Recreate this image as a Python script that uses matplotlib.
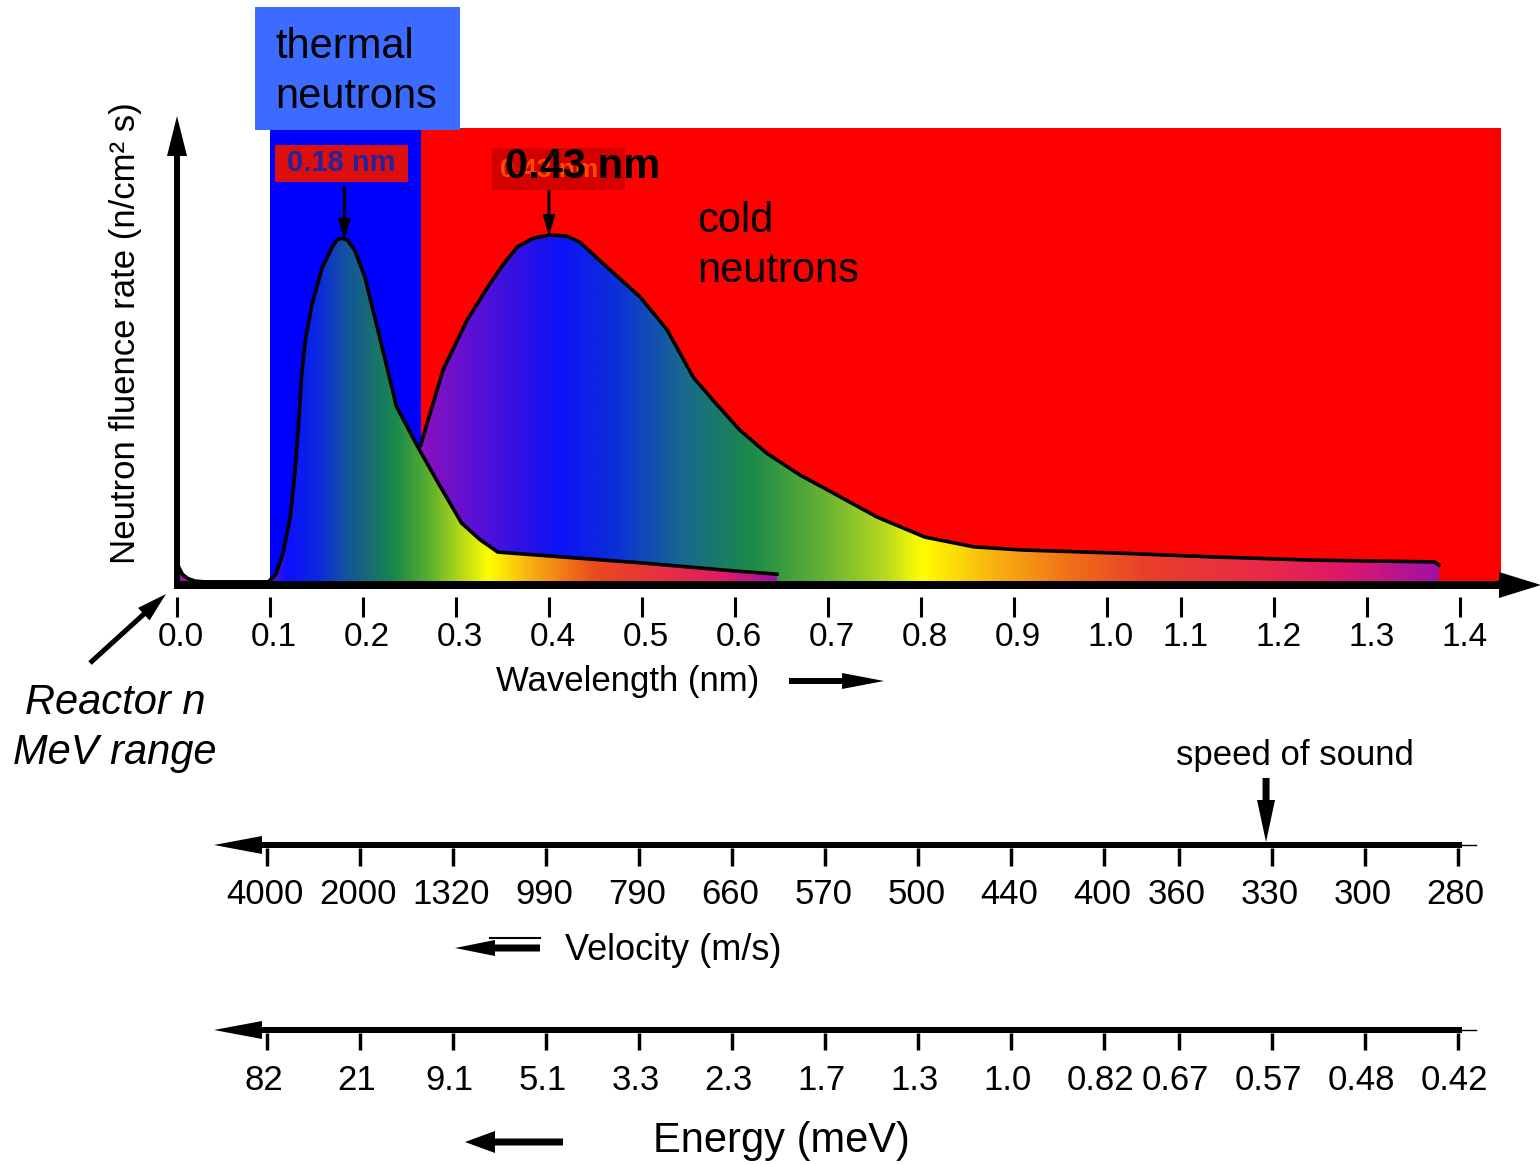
import numpy as np
import matplotlib
matplotlib.use('Agg')
import matplotlib.pyplot as plt
from matplotlib.patches import Rectangle, FancyArrowPatch
from matplotlib.colors import LinearSegmentedColormap

# spectra: wavelength (nm) vs relative fluence rate
thermal_nm = [0.098, 0.106, 0.114, 0.122, 0.127, 0.131, 0.134, 0.138, 0.145, 0.156,
              0.167, 0.172, 0.177, 0.183, 0.191, 0.202, 0.216, 0.236, 0.259, 0.281,
              0.306, 0.326, 0.345, 0.40, 0.50, 0.60, 0.645]
thermal_flux = [0.009, 0.029, 0.091, 0.200, 0.329, 0.471, 0.600, 0.700, 0.800, 0.906,
                0.966, 0.986, 0.991, 0.986, 0.957, 0.880, 0.729, 0.510, 0.394, 0.291,
                0.177, 0.129, 0.094, 0.083, 0.063, 0.040, 0.031]

cold_nm = [0.262, 0.286, 0.312, 0.337, 0.352, 0.366, 0.383, 0.401, 0.419, 0.433,
           0.462, 0.498, 0.527, 0.555, 0.576, 0.605, 0.634, 0.670, 0.700, 0.753,
           0.804, 0.857, 0.909, 1.013, 1.117, 1.222, 1.352, 1.357]
cold_flux = [0.400, 0.614, 0.757, 0.863, 0.920, 0.966, 0.991, 1.000, 0.997, 0.980,
             0.909, 0.823, 0.729, 0.594, 0.529, 0.443, 0.377, 0.314, 0.271, 0.194,
             0.137, 0.109, 0.100, 0.091, 0.080, 0.071, 0.066, 0.057]

reactor_nm = [0.0, 0.002, 0.006, 0.012, 0.020, 0.030, 0.098]
reactor_flux = [0.070, 0.050, 0.030, 0.018, 0.011, 0.009, 0.009]

wl_ticks = [0.0, 0.1, 0.2, 0.3, 0.4, 0.5, 0.6, 0.7, 0.8, 0.9, 1.0, 1.08, 1.18, 1.28, 1.38]
wl_labels = ['0.0', '0.1', '0.2', '0.3', '0.4', '0.5', '0.6', '0.7', '0.8', '0.9',
             '1.0', '1.1', '1.2', '1.3', '1.4']
velocity_labels = ['4000', '2000', '1320', '990', '790', '660', '570', '500', '440',
                   '400', '360', '330', '300', '280']
energy_labels = ['82', '21', '9.1', '5.1', '3.3', '2.3', '1.7', '1.3', '1.0', '0.82',
                 '0.67', '0.57', '0.48', '0.42']

thermal_band = (0.10, 0.262)
cold_band = (0.262, 1.424)
thermal_peak = 0.18
cold_peak = 0.40

# colour ramps under the curves (wavelength, colour)
thermal_ramp = [(0.098, '#5a12d0'), (0.118, '#0c10ff'), (0.150, '#0a28e0'), (0.180, '#1452a0'),
                (0.210, '#187070'), (0.235, '#1a8a48'), (0.270, '#5aae30'), (0.305, '#b4d818'),
                (0.335, '#ffff00'), (0.385, '#f6a812'), (0.450, '#ea4a1e'), (0.520, '#e83040'),
                (0.590, '#e01a6a'), (0.645, '#a010a8')]
cold_ramp = [(0.262, '#8a10c0'), (0.330, '#5010d8'), (0.410, '#0c12f8'), (0.470, '#0c30d8'),
             (0.540, '#186890'), (0.615, '#1a8a4a'), (0.700, '#6cb432'), (0.760, '#b8d820'),
             (0.800, '#ffff00'), (0.880, '#f8b010'), (0.960, '#f07018'), (1.040, '#e84028'),
             (1.170, '#e82a48'), (1.250, '#e01868'), (1.360, '#a010a8')]

plt.rcParams['font.family'] = ['Liberation Sans', 'DejaVu Sans']

W, H = 1540, 1165


# page pixel -> data coords
def X(p):
    return (p - 177) / 930.0


def Y(p):
    return (585 - p) / 350.0


fig = plt.figure(figsize=(W / 100, H / 100), dpi=100)
ax = fig.add_axes([0, 0, 1, 1])


def gradient_fill(xs, ys, ramp, z):
    xs = np.asarray(xs)
    ys = np.asarray(ys)
    poly = ax.fill_between(xs, 0, ys, color='none', lw=0)
    lo, hi = ramp[0][0], ramp[-1][0]
    cmap = LinearSegmentedColormap.from_list('r', [((p - lo) / (hi - lo), c) for p, c in ramp])
    im = ax.imshow(np.linspace(0, 1, 800)[None, :], cmap=cmap, aspect='auto',
                   extent=[lo, hi, 0, ys.max()], zorder=z, interpolation='bilinear')
    im.set_clip_path(poly.get_paths()[0], transform=ax.transData)


def arrow(p0, p1, tail, hw, hl, z=8):
    ax.add_patch(FancyArrowPatch((X(p0[0]), Y(p0[1])), (X(p1[0]), Y(p1[1])),
                                 arrowstyle=f'simple,head_length={hl},head_width={hw},tail_width={tail}',
                                 mutation_scale=0.72, color='k', lw=0, shrinkA=0, shrinkB=0, zorder=z))


top = Y(128)
ax.add_patch(Rectangle((cold_band[0], 0), cold_band[1] - cold_band[0], top, color='#ff0000', lw=0, zorder=1))
ax.add_patch(Rectangle((thermal_band[0], 0), thermal_band[1] - thermal_band[0], top, color='#0000ff', lw=0, zorder=1))

gradient_fill(cold_nm, cold_flux, cold_ramp, 2)
gradient_fill(thermal_nm, thermal_flux, thermal_ramp, 3)
ax.fill_between(reactor_nm[:4], 0, reactor_flux[:4], color='#a010a8', lw=0, zorder=3)

ax.plot(cold_nm, cold_flux, color='k', lw=2.6, zorder=4, solid_joinstyle='round')
ax.plot(thermal_nm, thermal_flux, color='k', lw=2.6, zorder=5, solid_joinstyle='round')
ax.plot(reactor_nm, reactor_flux, color='k', lw=2.6, zorder=5)

# axes with arrow heads
arrow((177, 589), (177, 116), 6, 20, 40)
arrow((174, 585), (1541, 585), 8, 26, 42)
ax.vlines(wl_ticks, Y(617), Y(597), color='k', lw=2.2, zorder=6)
for t, lab in zip(wl_ticks, wl_labels):
    ax.text(t + X(181), Y(638), lab, fontsize=24, ha='center', va='center')

ax.text(X(628), Y(681), 'Wavelength (nm)', fontsize=25, ha='center', va='center')
arrow((789, 681), (884, 681), 6, 16, 42)

ax.text(X(125), Y(333), 'Neutron fluence rate (n/cm² s)', fontsize=25, rotation=90,
        ha='center', va='center')

# region labels
ax.add_patch(Rectangle((X(255), Y(130)), X(460) - X(255), Y(7) - Y(130), color='#3b6bff', lw=0, zorder=6))
ax.text(X(275), Y(72), 'thermal\nneutrons', fontsize=30, ha='left', va='center', linespacing=1.33, zorder=7)
ax.text(X(697), Y(246), 'cold\nneutrons', fontsize=30, ha='left', va='center', linespacing=1.31, zorder=7)

ax.add_patch(Rectangle((X(275), Y(182)), X(408) - X(275), Y(145) - Y(182), color='#dc0e0e', lw=0, zorder=6))
ax.text(X(341), Y(163), '0.18 nm', fontsize=21, weight='bold', color='#24249a',
        ha='center', va='center', zorder=7)
arrow((thermal_peak * 930 + 177, 186), (thermal_peak * 930 + 177, 240), 3, 13, 22)

# faint label underneath the bold one, as in the original slide
ax.add_patch(Rectangle((X(492), Y(190)), X(625) - X(492), Y(148) - Y(190), color='#d40000', lw=0, zorder=6))
ax.text(X(500), Y(170), '0.43 nm', fontsize=19, weight='bold', color='#ff4a00',
        ha='left', va='center', zorder=7)
ax.text(X(505), Y(167), '0.43 nm', fontsize=30, weight='bold', color='k',
        ha='left', va='center', zorder=8)
arrow((cold_peak * 930 + 177, 190), (cold_peak * 930 + 177, 236), 3, 13, 22)

ax.text(X(115), Y(728), 'Reactor n\nMeV range', fontsize=30, style='italic',
        ha='center', va='center', linespacing=1.31)
arrow((90, 663), (166, 594), 5, 17, 30)

# velocity scale
scale_pos = np.array(wl_ticks[1:]) - 0.003
arrow((1462, 845), (214, 845), 6, 18, 48)
ax.plot([X(1460), X(1476)], [Y(845), Y(845)], color='k', lw=1)
ax.vlines(scale_pos, Y(866), Y(848), color='k', lw=2.5, zorder=6)
for t, lab in zip(scale_pos, velocity_labels):
    ax.text(t - 0.002, Y(895), lab, fontsize=25, ha='center', va='center')
ax.text(X(565), Y(950), 'Velocity (m/s)', fontsize=26, ha='left', va='center')
arrow((540, 948), (455, 948), 7, 16, 40)
ax.plot([X(490), X(540)], [Y(938), Y(938)], color='k', lw=1.5)

ax.text(X(1295), Y(755), 'speed of sound', fontsize=25, ha='center', va='center')
sound = scale_pos[velocity_labels.index('330')] - 0.006
arrow((sound * 930 + 177, 778), (sound * 930 + 177, 842), 7, 18, 42)

# energy scale
arrow((1462, 1030), (214, 1030), 6, 18, 48)
ax.plot([X(1460), X(1476)], [Y(1030), Y(1030)], color='k', lw=1)
ax.vlines(scale_pos, Y(1050), Y(1033), color='k', lw=2.5, zorder=6)
for t, lab in zip(scale_pos, energy_labels):
    ax.text(t - 0.004, Y(1081), lab, fontsize=25, ha='center', va='center')
ax.text(X(653), Y(1141), 'Energy (meV)', fontsize=30, ha='left', va='center')
arrow((563, 1142), (465, 1142), 7, 22, 30)

ax.set_xlim(X(0), X(W))
ax.set_ylim(Y(H), Y(0))
ax.axis('off')

fig.savefig('out.png', dpi=100)
